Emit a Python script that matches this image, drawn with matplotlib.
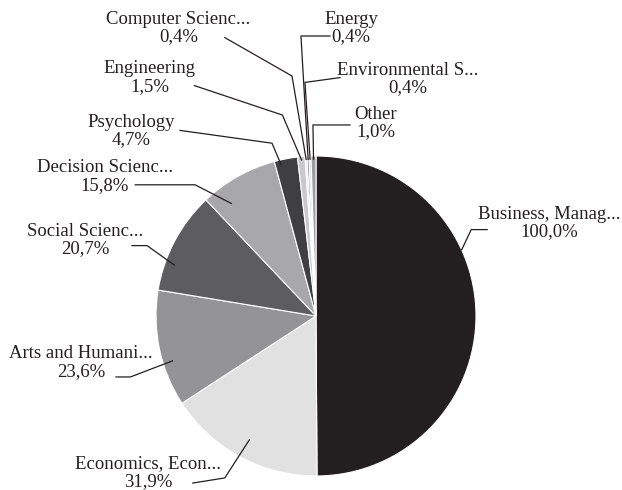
import numpy as np
import matplotlib.pyplot as plt

plt.rcParams['font.family'] = ['Liberation Serif', 'DejaVu Serif']

# subject areas, clockwise from 12 o'clock
labels = ['Business, Manag...', 'Economics, Econ...', 'Arts and Humani...',
          'Social Scienc...', 'Decision Scienc...', 'Psychology', 'Engineering',
          'Computer Scienc...', 'Energy', 'Environmental S...', 'Other']
values = [100.0, 31.9, 23.6, 20.7, 15.8, 4.7, 1.5, 0.4, 0.4, 0.4, 1.0]
colors = ['#231f20', '#e1e1e2', '#949496', '#5d5d5f', '#a8a8aa', '#3f3f41',
          '#c9c9cb', '#e8e8e8', '#7b7b7d', '#d6d6d8', '#9d9d9f']

# label layout: text centre, start of leader, elbow, and where it meets the wedge
text_pos = [(1.456, 0.58), (-1.05, -0.98), (-1.47, -0.29), (-1.444, 0.475),
            (-1.32, 0.87), (-1.156, 1.156), (-1.04, 1.49), (-0.86, 1.80),
            (0.22, 1.80), (0.575, 1.48), (0.375, 1.206)]
line_start = [(1.07, 0.54), (-0.77, -1.044), (-1.25, -0.381), (-1.15, 0.44),
              (-1.13, 0.82), (-0.85, 1.16), (-0.76, 1.44), (-0.57, 1.74),
              (0.0875, 1.75), (0.15, 1.49), (0.2125, 1.194)]
elbow = [(0.97, 0.54), (-0.57, -1.012), (-1.16, -0.381), (-1.056, 0.44),
         (-0.756, 0.82), (-0.275, 1.08), (-0.21, 1.256), (-0.15, 1.50),
         (-0.094, 1.75), (-0.069, 1.46), (-0.019, 1.194)]
anchor_frac = [0.635, 0.5, 0.63, 0.72, 0.77, 0.75, 0.5, 0.5, 0.5, 0.5, 0.5]
anchor_r = [1.0, 0.88, 0.94, 0.94, 0.88, 0.97, 0.98, 0.98, 0.98, 0.98, 0.98]

fig = plt.figure(figsize=(6.22, 4.90), dpi=100)
cx, cy, rad = 316, 316, 160
ax = fig.add_axes([(cx - rad) / 622, (490 - cy - rad) / 490, 2 * rad / 622, 2 * rad / 490])

wedges, _ = ax.pie(values, colors=colors, startangle=90, counterclock=False,
                   radius=1.0, wedgeprops=dict(edgecolor='white', linewidth=0.8))
ax.set_xlim(-1, 1)
ax.set_ylim(-1, 1)
ax.set_aspect('equal')
ax.axis('off')

for i, w in enumerate(wedges):
    ang = np.deg2rad(w.theta1 + anchor_frac[i] * (w.theta2 - w.theta1))
    ax_pt = (anchor_r[i] * np.cos(ang), anchor_r[i] * np.sin(ang))
    xs = [line_start[i][0], elbow[i][0], ax_pt[0]]
    ys = [line_start[i][1], elbow[i][1], ax_pt[1]]
    ax.plot(xs, ys, color='#231f20', lw=0.9, clip_on=False, zorder=3)
    pct = f'{values[i]:.1f}'.replace('.', ',') + '%'
    ax.text(text_pos[i][0], text_pos[i][1], f'{labels[i]}\n{pct}',
            ha='center', va='center', fontsize=13.5, color='#231f20',
            linespacing=1.05, clip_on=False)

fig.savefig('out.png', dpi=100)
